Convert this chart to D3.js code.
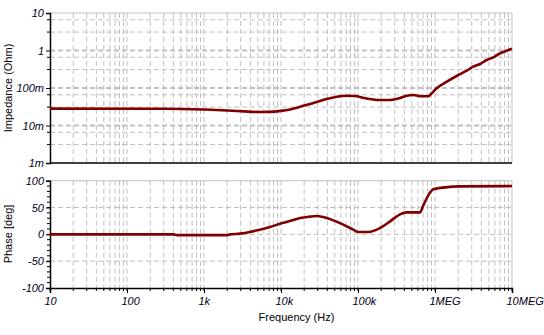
<!DOCTYPE html>
<html><head><meta charset="utf-8">
<script src="https://cdn.jsdelivr.net/npm/d3@7"></script>
<style>
html,body{margin:0;padding:0;background:#fff;}
svg{display:block;}
text{font-family:"Liberation Sans",Arial,sans-serif;}
</style></head>
<body><svg id="c" width="544" height="335"></svg>
<script>
// ---- data ----
const impFreq = [10, 300, 1000, 2000, 3300, 5000, 7000, 10000, 13100, 17700, 23800, 32100, 39200, 52900, 71300, 91400, 116000, 151000, 175000, 261000, 351000, 429000, 523000, 638000, 818000, 906000, 1050000, 1420000, 1910000, 2580000, 3140000, 3840000, 4690000, 5720000, 6980000, 8530000, 10000000];
const impOhm  = [0.0281, 0.0279, 0.0266, 0.0252, 0.0238, 0.0229, 0.0231, 0.0245, 0.0268, 0.0317, 0.0374, 0.045, 0.0509, 0.0586, 0.0623, 0.0612, 0.0551, 0.050, 0.0479, 0.0479, 0.0541, 0.0623, 0.065, 0.0605, 0.0605, 0.0723, 0.0982, 0.147, 0.209, 0.289, 0.37, 0.436, 0.558, 0.659, 0.842, 0.989, 1.117];
const phFreq = [10, 400, 450, 2000, 2180, 2940, 3960, 5330, 7190, 9700, 13100, 17700, 23800, 29100, 35400, 47800, 64400, 86900, 101000, 136000, 193000, 261000, 351000, 429000, 638000, 705000, 818000, 950000, 1350000, 2110000, 10000000];
const phDeg  = [0, 0, -1.5, -1.5, 0, 1.3, 4.3, 8.7, 13.6, 19.9, 24.8, 30.4, 33, 34.1, 32.2, 26.1, 18.1, 8.8, 4.3, 4.3, 11.8, 24.2, 37.3, 41, 41, 54, 72.7, 83.9, 87.6, 89.5, 90];
const xTickVals = [10, 100, 1e3, 1e4, 1e5, 1e6, 1e7];
const xTickLabels = ["10", "100", "1k", "10k", "100k", "1MEG", "10MEG"];
const impTickVals = [10, 1, 0.1, 0.01, 0.001];
const impTickLabels = ["10", "1", "100m", "10m", "1m"];
const impGridMult = [3.1, 6.6];
const phTickVals = [100, 50, 0, -50, -100];
const phTickLabels = ["100", "50", "0", "-50", "-100"];
const phGridVals = [50, 0, -50];

const svg = d3.select("#c");
const L = 50, R = 512;
const x = d3.scaleLog().domain([10, 1e7]).range([L, R]);
const yT = d3.scaleLog().domain([1e-3, 10]).range([163, 13]);
const yB = d3.scaleLinear().domain([-100, 100]).range([288, 180.7]);

const gridColor = "#c0c0c0";
const dash = "5,3";

// minor x values
const xMinor = [];
for (let d = 10; d < 1e7; d *= 10) for (let m = 1; m <= 9; m++) xMinor.push(d * m);
xMinor.push(1e7);

function panel(y, top, bottom) {
  const g = svg.append("g");
  g.selectAll("line.vg").data(xMinor.filter(v => v > 10 && v < 1e7)).enter().append("line")
    .attr("x1", d => x(d)).attr("x2", d => x(d)).attr("y1", top).attr("y2", bottom)
    .attr("stroke", gridColor).attr("stroke-dasharray", dash).attr("stroke-width", 1);
  return g;
}

// ---- top panel ----
const gT = panel(yT, 13, 163);
const impGrid = [];
for (let d = 0.001; d < 10; d *= 10) impGridMult.forEach(m => impGrid.push(d * m));
gT.selectAll("line.hg").data(impGrid).enter().append("line")
  .attr("x1", L).attr("x2", R).attr("y1", d => yT(d)).attr("y2", d => yT(d))
  .attr("stroke", gridColor).attr("stroke-dasharray", dash);
gT.selectAll("line.hd").data(impTickVals.filter(v => v < 10 && v > 0.001)).enter().append("line")
  .attr("x1", L).attr("x2", R).attr("y1", d => yT(d)).attr("y2", d => yT(d))
  .attr("stroke", gridColor).attr("stroke-dasharray", dash).attr("stroke-width", 2);
// borders
gT.append("line").attr("x1", L).attr("x2", R).attr("y1", 13).attr("y2", 13).attr("stroke", gridColor);
gT.append("line").attr("x1", R).attr("x2", R).attr("y1", 13).attr("y2", 163).attr("stroke", gridColor);
// axes
const axT = d3.axisLeft(yT).tickValues(impTickVals).tickFormat((d, i) => impTickLabels[i]).tickSize(4).tickPadding(2);
const gaxT = svg.append("g").attr("transform", `translate(${L},0)`).call(axT);
gaxT.selectAll(".tick").filter(function(){return false;});
svg.append("g").attr("transform", `translate(${L},0)`).selectAll("line").data(impGrid).enter().append("line")
  .attr("x1", -3).attr("x2", 0).attr("y1", d => yT(d)).attr("y2", d => yT(d)).attr("stroke", "#000");
svg.append("line").attr("x1", L).attr("x2", R).attr("y1", 163).attr("y2", 163).attr("stroke", "#000").attr("stroke-width", 1.5);

// ---- bottom panel ----
const gB = panel(yB, 180.7, 288);
gB.selectAll("line.hg").data(phGridVals).enter().append("line")
  .attr("x1", L).attr("x2", R).attr("y1", d => yB(d)).attr("y2", d => yB(d))
  .attr("stroke", gridColor).attr("stroke-dasharray", dash);
gB.append("line").attr("x1", L).attr("x2", R).attr("y1", 180.7).attr("y2", 180.7).attr("stroke", gridColor);
gB.append("line").attr("x1", R).attr("x2", R).attr("y1", 180.7).attr("y2", 288).attr("stroke", gridColor);
const axB = d3.axisLeft(yB).tickValues(phTickVals).tickFormat((d, i) => phTickLabels[i]).tickSize(4).tickPadding(2);
const gaxB = svg.append("g").attr("transform", `translate(${L},0)`).call(axB);
svg.append("g").attr("transform", `translate(${L},0)`).selectAll("line").data(d3.range(-90, 100, 10)).enter().append("line")
  .attr("x1", -3).attr("x2", 0).attr("y1", d => yB(d)).attr("y2", d => yB(d)).attr("stroke", "#000");
const axX = d3.axisBottom(x).tickValues(xTickVals).tickFormat(() => "").tickSize(5);
const gaxX = svg.append("g").attr("transform", "translate(0,288)").call(axX);
svg.append("g").attr("transform", "translate(0,288)").selectAll("line").data(xMinor).enter().append("line")
  .attr("x1", d => x(d)).attr("x2", d => x(d)).attr("y1", 0).attr("y2", 3).attr("stroke", "#000");
svg.selectAll("text.xl").data(xTickVals).enter().append("text")
  .attr("x", d => x(d) - 5.5).attr("y", 305).attr("font-size", 11).attr("font-style", "italic")
  .attr("fill", "#000020").text((d, i) => xTickLabels[i]);

[gaxT, gaxB, gaxX].forEach(g => {
  g.select(".domain").attr("stroke", "#000").attr("stroke-width", 1.5);
  g.selectAll(".tick line").attr("stroke", "#000");
  g.selectAll(".tick text").attr("font-size", 11).attr("font-style", "italic").attr("fill", "#000020")
    .attr("font-family", "Liberation Sans, Arial, sans-serif");
});

// ---- curves ----
const lineT = d3.line().x((d, i) => x(impFreq[i])).y(d => yT(d)).curve(d3.curveMonotoneX);
svg.append("path").datum(impOhm).attr("d", lineT).attr("fill", "none").attr("stroke", "#800000").attr("stroke-width", 2.6);
const lineB = d3.line().x((d, i) => x(phFreq[i])).y(d => yB(d)).curve(d3.curveMonotoneX);
svg.append("path").datum(phDeg).attr("d", lineB).attr("fill", "none").attr("stroke", "#800000").attr("stroke-width", 2.6);

// ---- labels ----
svg.append("text").attr("transform", "translate(11.5,88) rotate(-90)").attr("text-anchor", "middle")
  .attr("font-size", 11).attr("fill", "#000").text("Impedance (Ohm)");
svg.append("text").attr("transform", "translate(11.5,234) rotate(-90)").attr("text-anchor", "middle")
  .attr("font-size", 11).attr("fill", "#000").text("Phase [deg]");
svg.append("text").attr("x", 296.5).attr("y", 321).attr("text-anchor", "middle")
  .attr("font-size", 11).attr("fill", "#000").text("Frequency (Hz)");
</script></body></html>
